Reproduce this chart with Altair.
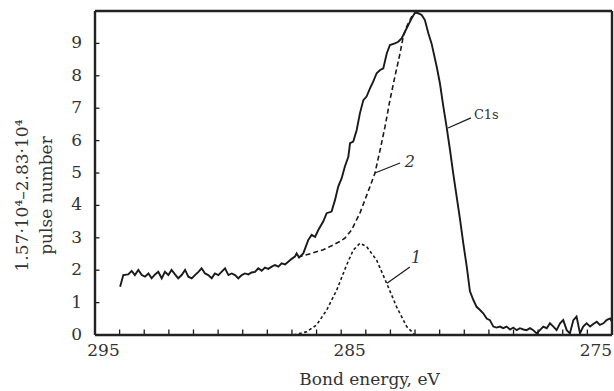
import altair as alt
import pandas as pd

# ---- data ----
# C1s spectrum (solid), binding energy (eV) and intensity
c1s_e = [293.98, 293.85, 293.65, 293.51, 293.38, 293.24, 293.10, 292.97, 292.83, 292.70,
         292.56, 292.43, 292.29, 292.16, 292.02, 291.89, 291.75, 291.62, 291.48, 291.34,
         291.21, 291.07, 290.94, 290.80, 290.67, 290.53, 290.40, 290.26, 290.13, 289.99,
         289.86, 289.72, 289.58, 289.45, 289.31, 289.18, 289.04, 288.91, 288.77, 288.64,
         288.50, 288.37, 288.23, 288.10, 287.96, 287.82, 287.69, 287.55, 287.42, 287.28,
         287.15, 287.01, 286.88, 286.81, 286.71, 286.54,
         286.34, 286.20, 286.06, 285.93, 285.73, 285.59, 285.39, 285.25, 285.12, 284.98,
         284.85, 284.71, 284.64, 284.51, 284.37, 284.24, 284.10, 283.97, 283.83, 283.70,
         283.56, 283.42, 283.29, 283.15, 283.02, 282.82, 282.68, 282.54, 282.41, 282.27,
         282.14, 282.00, 281.87, 281.73, 281.60, 281.46, 281.33, 281.12, 280.99, 280.85,
         280.72, 280.58, 280.45, 280.31, 280.17, 280.04, 279.90, 279.77,
         279.63, 279.50, 279.36, 279.23, 279.09, 278.96, 278.82, 278.69, 278.55, 278.42,
         278.28, 278.14, 278.01, 277.87, 277.74, 277.60, 277.47, 277.33, 277.20, 277.06,
         276.93, 276.79, 276.65, 276.52, 276.38, 276.25, 276.11, 275.98, 275.84, 275.71,
         275.57, 275.44, 275.30, 275.17, 275.03, 274.89, 274.76, 274.62, 274.49, 274.35,
         274.22, 274.08, 274.00]
c1s_i = [1.49, 1.85, 1.87, 1.98, 1.85, 2.01, 1.85, 1.80, 1.90, 1.75,
         1.87, 1.95, 1.75, 1.95, 1.85, 2.01, 1.87, 1.75, 1.85, 2.01,
         1.80, 1.75, 1.85, 1.95, 2.06, 1.90, 1.85, 1.75, 1.90, 1.85,
         1.95, 2.06, 1.85, 1.90, 1.85, 1.75, 1.85, 1.90, 1.87, 1.93,
         1.95, 2.06, 1.98, 2.08, 2.04, 2.11, 2.16, 2.11, 2.21, 2.18,
         2.26, 2.35, 2.42, 2.52, 2.39, 2.52,
         2.93, 3.09, 3.03, 3.24, 3.50, 3.76, 3.81, 4.17, 4.58, 4.84,
         5.20, 5.50, 5.92, 5.97, 6.33, 6.84, 7.25, 7.36, 7.61, 7.82,
         8.08, 8.18, 8.23, 8.69, 8.95, 9.00, 9.05, 9.16, 9.36, 9.57,
         9.77, 9.95, 9.93, 9.88, 9.72, 9.31, 9.00, 8.28, 7.77, 7.05,
         6.43, 5.71, 4.99, 4.27, 3.55, 2.83, 2.11, 1.35,
         1.08, 0.87, 0.77, 0.67, 0.51, 0.46, 0.26, 0.23, 0.26, 0.21,
         0.26, 0.17, 0.23, 0.15, 0.21, 0.17, 0.15, 0.21, 0.15, 0.05,
         0.15, 0.26, 0.21, 0.36, 0.26, 0.15, 0.36, 0.46, 0.15, 0.05,
         0.46, 0.57, 0.05, 0.26, 0.36, 0.26, 0.34, 0.41, 0.31, 0.36,
         0.46, 0.51, 0.41]

# component 2 (dashed)
c2_e = [286.76, 286.54, 286.20, 286.00, 285.73, 285.32, 285.05, 284.85, 284.58, 284.24,
        283.83, 283.63, 283.42, 283.22, 283.02, 282.82, 282.61, 282.48, 282.34, 282.14, 282.00]
c2_i = [2.40, 2.45, 2.52, 2.57, 2.63, 2.78, 2.89, 2.99, 3.24, 3.76,
        4.58, 4.99, 5.71, 6.43, 7.25, 7.97, 8.69, 9.21, 9.52, 9.82, 9.93]

# component 1 (dashed)
c1_e = [286.94, 286.40, 286.00, 285.59, 285.18, 284.78, 284.51, 284.24, 283.97, 283.56,
        283.15, 282.75, 282.34, 282.00]
c1_i = [0.00, 0.10, 0.31, 0.77, 1.39, 2.16, 2.62, 2.83, 2.73, 2.31,
        1.59, 0.87, 0.26, 0.00]

x_labels = [295, 285, 275]
x_minor = list(range(275, 295))
y_labels = list(range(0, 10))
x_range = [295, 274]
y_range = [0, 10]

ann_text = ["C1s", "2", "1"]
ann_e = [279.61, 282.21, 281.96]
ann_i = [6.79, 5.34, 2.38]
ann_style = ["normal", "italic", "italic"]
ann_size = [13, 16, 16]
lead_e = [280.66, 283.63, 283.14]
lead_i = [6.39, 5.00, 1.60]
lead_e2 = [279.73, 282.61, 282.21]
lead_i2 = [6.70, 5.31, 2.10]

FONT = "DejaVu Serif"
INK = "#1a1a1a"
TXT = "#333333"

xs = alt.Scale(domain=x_range, nice=False, zero=False)
ys = alt.Scale(domain=y_range, nice=False, zero=True)

xaxis = alt.Axis(values=x_labels, ticks=False, domain=False, grid=False,
                 labelFont=FONT, labelFontSize=17, labelColor=TXT, labelPadding=7,
                 labelFlush=False, labelOffset=8, labelOverlap=False,
                 title="Bond energy, eV", titleFont=FONT, titleFontSize=17,
                 titleFontWeight="normal", titleColor=TXT, titleX=274, titleY=36,
                 titleBaseline="top")
# y tick labels are drawn as a text layer; axis keeps only the title
yaxis = alt.Axis(values=y_labels, ticks=False, domain=False, grid=False, labels=False,
                 title=["1.57·10⁴–2.83·10⁴", "pulse number"], titleFont=FONT,
                 titleFontSize=17, titleFontWeight="normal", titleColor=TXT,
                 titleLineHeight=24, titlePadding=40, titleY=184)


def X(field):
    return alt.X(field, scale=xs, axis=xaxis)


def Y(field):
    return alt.Y(field, scale=ys, axis=yaxis)


main_df = pd.DataFrame({"e": c1s_e, "v": c1s_i, "i": range(len(c1s_e))})
c2_df = pd.DataFrame({"e": c2_e, "v": c2_i, "i": range(len(c2_e))})
c1_df = pd.DataFrame({"e": c1_e, "v": c1_i, "i": range(len(c1_e))})

main = alt.Chart(main_df).mark_line(color=INK, strokeWidth=1.9).encode(
    x=X("e:Q"), y=Y("v:Q"), order="i:Q")
comp2 = alt.Chart(c2_df).mark_line(color=INK, strokeWidth=1.6, strokeDash=[5, 3]).encode(
    x=X("e:Q"), y=Y("v:Q"), order="i:Q")
comp1 = alt.Chart(c1_df).mark_line(color=INK, strokeWidth=1.6, strokeDash=[3, 2.5]).encode(
    x=X("e:Q"), y=Y("v:Q"), order="i:Q")

xt = alt.Chart(pd.DataFrame({"e": x_minor})).mark_rule(color=INK, strokeWidth=1.3).encode(
    x=X("e:Q"), y=alt.datum(0), y2=alt.datum(0.17))
yt = alt.Chart(pd.DataFrame({"v": y_labels[1:]})).mark_rule(color=INK, strokeWidth=1.3).encode(
    y=Y("v:Q"), x=alt.datum(295), x2=alt.datum(294.82))

ylab = alt.Chart(pd.DataFrame({"v": y_labels})).mark_text(
    font=FONT, fontSize=17, color=TXT, align="right", baseline="middle", dx=-13).encode(
    y=Y("v:Q"), x=alt.datum(295), text="v:Q")

# frame (box) drawn through the scales
frame_df = pd.DataFrame({
    "a": [x_range[0], x_range[1], x_range[0], x_range[0]],
    "a2": [x_range[0], x_range[1], x_range[1], x_range[1]],
    "b": [y_range[0], y_range[0], y_range[0], y_range[1]],
    "b2": [y_range[1], y_range[1], y_range[0], y_range[1]],
})
frame = alt.Chart(frame_df).mark_rule(color="#222222", strokeWidth=2.4).encode(
    x=X("a:Q"), x2="a2:Q", y=Y("b:Q"), y2="b2:Q")

lead = alt.Chart(pd.DataFrame({"a": lead_e, "b": lead_i, "a2": lead_e2, "b2": lead_i2})).mark_rule(
    color=INK, strokeWidth=1.2).encode(
    x=X("a:Q"), y=Y("b:Q"), x2="a2:Q", y2="b2:Q")

ann_df = pd.DataFrame({"t": ann_text, "e": ann_e, "v": ann_i})
texts = []
for k in range(len(ann_text)):
    texts.append(
        alt.Chart(ann_df.iloc[[k]]).mark_text(
            font=FONT, fontSize=ann_size[k], fontStyle=ann_style[k], color=TXT,
            align="left" if k == 0 else "center", baseline="middle").encode(
            x=X("e:Q"), y=Y("v:Q"), text="t:N"))

chart = alt.layer(main, comp2, comp1, xt, yt, ylab, frame, lead, *texts).properties(
    width=517, height=324,
    background="white",
    autosize=alt.AutoSizeParams(type="none"),
    padding={"left": 95, "top": 11, "right": 2, "bottom": 56},
).configure_view(strokeWidth=0)

chart.save("out.html", embed_options={"renderer": "svg", "actions": False})
